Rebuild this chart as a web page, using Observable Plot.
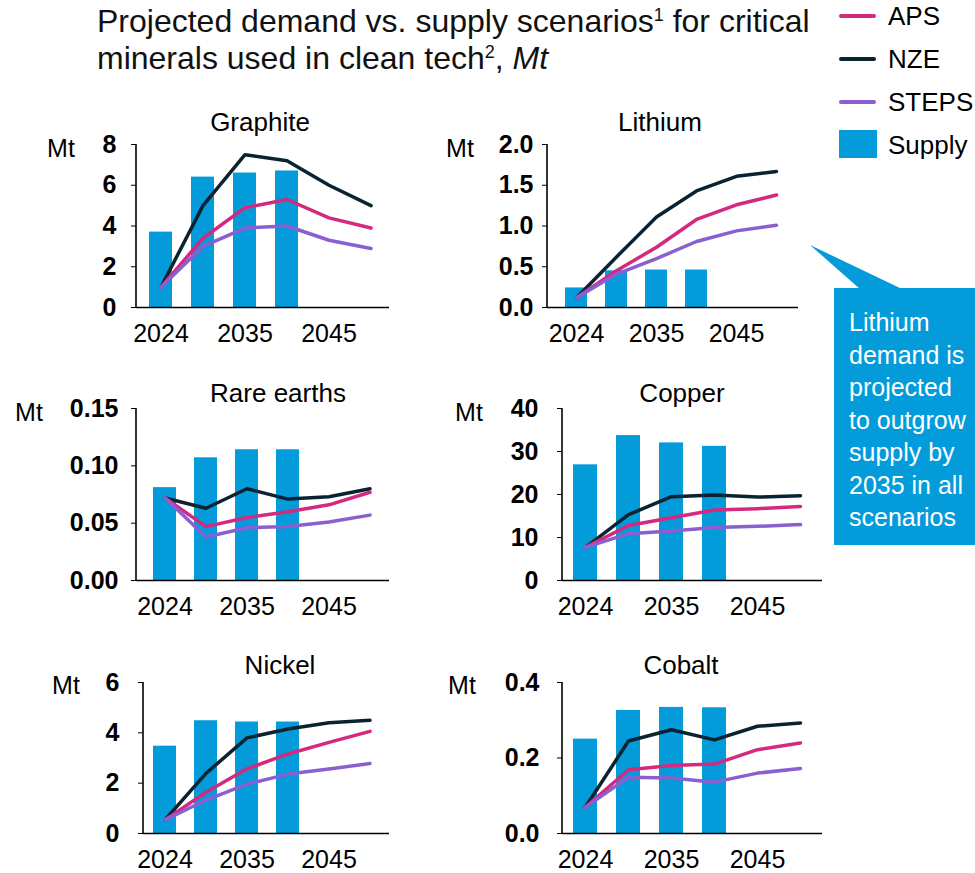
<!DOCTYPE html>
<html><head><meta charset="utf-8">
<script src="https://cdn.jsdelivr.net/npm/d3@7"></script>
<script src="https://cdn.jsdelivr.net/npm/@observablehq/plot@0.6"></script>
<style>
body{margin:0;background:#fff;font-family:"Liberation Sans",Arial,sans-serif;}
#root{position:relative;width:975px;height:873px;overflow:hidden;background:#fff;}
.abs{position:absolute;white-space:nowrap;}
.ptitle{font-size:26px;line-height:30px;color:#000;transform:translateX(-50%);}
.mt{font-size:25px;line-height:30px;color:#000;transform:translateX(-50%);}
#root svg [aria-label^="y-axis"] text{font-weight:bold;}
</style></head><body><div id="root"></div>
<script>
// ---- data ----
const years = ["2024","2030","2035","2040","2045","2050"];
const supplyYears = ["2024","2030","2035","2040"];
const tickYears = ["2024","2035","2045"];
const scenarios = ["NZE","APS","STEPS"];

const graphiteSupply = [3.7, 6.4, 6.6, 6.7];
const graphiteNZE   = [1.0, 5.0, 7.5, 7.2, 6.0, 5.0];
const graphiteAPS   = [1.0, 3.4, 4.9, 5.3, 4.4, 3.9];
const graphiteSTEPS = [1.0, 3.0, 3.9, 4.0, 3.3, 2.9];

const lithiumSupply = [0.24, 0.45, 0.46, 0.46];
const lithiumNZE   = [0.12, 0.62, 1.11, 1.43, 1.61, 1.67];
const lithiumAPS   = [0.12, 0.45, 0.74, 1.08, 1.26, 1.38];
const lithiumSTEPS = [0.12, 0.41, 0.60, 0.81, 0.94, 1.01];

const rareSupply = [0.081, 0.107, 0.114, 0.114];
const rareNZE   = [0.072, 0.063, 0.080, 0.071, 0.073, 0.080];
const rareAPS   = [0.072, 0.047, 0.055, 0.060, 0.066, 0.077];
const rareSTEPS = [0.072, 0.038, 0.046, 0.047, 0.051, 0.057];

const copperSupply = [26.9, 33.7, 32.0, 31.2];
const copperNZE   = [7.7, 15.3, 19.5, 19.9, 19.4, 19.7];
const copperAPS   = [7.7, 12.8, 14.6, 16.4, 16.7, 17.2];
const copperSTEPS = [7.7, 10.9, 11.5, 12.3, 12.6, 13.0];

const nickelSupply = [3.47, 4.48, 4.43, 4.43];
const nickelNZE   = [0.54, 2.39, 3.80, 4.15, 4.40, 4.50];
const nickelAPS   = [0.54, 1.64, 2.57, 3.16, 3.62, 4.06];
const nickelSTEPS = [0.54, 1.33, 1.96, 2.36, 2.56, 2.78];

const cobaltSupply = [0.250, 0.326, 0.334, 0.333];
const cobaltNZE   = [0.070, 0.245, 0.275, 0.248, 0.284, 0.293];
const cobaltAPS   = [0.070, 0.169, 0.180, 0.184, 0.222, 0.240];
const cobaltSTEPS = [0.070, 0.149, 0.147, 0.136, 0.160, 0.172];

const graphiteTicks = [0, 2, 4, 6, 8];
const lithiumTicks = [0, 0.5, 1.0, 1.5, 2.0];
const rareTicks = [0, 0.05, 0.10, 0.15];
const copperTicks = [0, 10, 20, 30, 40];
const nickelTicks = [0, 2, 4, 6];
const cobaltTicks = [0, 0.2, 0.4];

// ---- styles ----
const colors = {NZE:"#0b2330", APS:"#d32a7f", STEPS:"#8a5fd1"};
const supplyColor = "#039bda";
const FONT = "Liberation Sans, Arial, sans-serif";

// ---- layout (page coords) ----
const panels = [
  {name:"Graphite", supply:graphiteSupply, nze:graphiteNZE, aps:graphiteAPS, steps:graphiteSTEPS, ticks:graphiteTicks, fmt:"d",
   L:136, R:389, T:144, B:307, c0:160, c5:370, bw:23, pad:15, title:[260,122], mt:[61,148]},
  {name:"Lithium", supply:lithiumSupply, nze:lithiumNZE, aps:lithiumAPS, steps:lithiumSTEPS, ticks:lithiumTicks, fmt:".1f",
   L:547, R:798, T:144, B:307, c0:574, c5:778, bw:22, pad:9, title:[660,122], mt:[460,148]},
  {name:"Rare earths", supply:rareSupply, nze:rareNZE, aps:rareAPS, steps:rareSTEPS, ticks:rareTicks, fmt:".2f",
   L:136, R:389, T:408, B:580, c0:163, c5:370, bw:23, pad:13, title:[278,393], mt:[29,412]},
  {name:"Copper", supply:copperSupply, nze:copperNZE, aps:copperAPS, steps:copperSTEPS, ticks:copperTicks, fmt:"d",
   L:562, R:822, T:408, B:580, c0:584, c5:801, bw:24, pad:19, title:[682,393], mt:[469,412]},
  {name:"Nickel", supply:nickelSupply, nze:nickelNZE, aps:nickelAPS, steps:nickelSTEPS, ticks:nickelTicks, fmt:"d",
   L:143, R:389, T:682, B:833, c0:163, c5:370, bw:23, pad:19, title:[280,665], mt:[66,685]},
  {name:"Cobalt", supply:cobaltSupply, nze:cobaltNZE, aps:cobaltAPS, steps:cobaltSTEPS, ticks:cobaltTicks, fmt:".1f",
   L:562, R:822, T:682, B:833, c0:584, c5:801, bw:24, pad:18, title:[681,665], mt:[462,685]}
];

const root = document.getElementById("root");

function addDiv(html, cls, left, top, extra) {
  const d = document.createElement("div");
  d.className = "abs " + (cls || "");
  d.innerHTML = html;
  d.style.left = left + "px";
  d.style.top = top + "px";
  if (extra) Object.assign(d.style, extra);
  root.appendChild(d);
  return d;
}

// title
const sup = n => '<sup style="font-size:18px;vertical-align:11px;line-height:0">' + n + '</sup>';
addDiv('Projected demand vs. supply scenarios' + sup(1) + ' for critical<br>minerals used in clean tech' + sup(2) + ', <i>Mt</i>',
  "", 97, 3, {fontSize:"32px", lineHeight:"37px", color:"#111"});

// legend
const legendY = {APS:16, NZE:59, STEPS:102};
["APS","NZE","STEPS"].forEach(k => {
  addDiv("", "", 839, legendY[k] - 2, {width:"37px", height:"4px", background:colors[k], borderRadius:"2px"});
  addDiv(k, "", 888, legendY[k] - 15, {fontSize:"26px", lineHeight:"30px", color:"#000"});
});
addDiv("", "", 839, 130, {width:"38px", height:"28px", background:supplyColor});
addDiv("Supply", "", 888, 130, {fontSize:"26px", lineHeight:"30px", color:"#000"});

// panels
panels.forEach(p => {
  const ml = 135, mr = 12, mt = 20, mb = 50;
  const left = p.L - ml, top = p.T - mt;
  const width = p.R - p.L + ml + mr;
  const height = p.B - p.T + mt + mb;
  const step = (p.c5 - p.c0) / (years.length - 1);
  const supplyRows = supplyYears.map((y, i) => ({year: y, value: p.supply[i]}));
  const lineRows = [];
  [["NZE", p.nze], ["APS", p.aps], ["STEPS", p.steps]].forEach(([s, arr]) =>
    years.forEach((y, i) => lineRows.push({year: y, value: arr[i], scenario: s})));

  const axisLine = (index, scales, values, dims) => {
    return d3.create("svg:line")
      .attr("x1", dims.marginLeft).attr("x2", dims.marginLeft)
      .attr("y1", dims.marginTop).attr("y2", dims.height - dims.marginBottom)
      .attr("stroke", "#000").attr("stroke-width", 1.6).node();
  };

  const chart = Plot.plot({
    width, height,
    marginLeft: ml, marginRight: mr, marginTop: mt, marginBottom: mb,
    style: {background: "transparent", overflow: "visible", fontFamily: FONT, fontSize: "25px", color: "#000"},
    x: {type: "band", domain: years,
        range: [p.c0 - p.bw / 2 - left, p.c5 + p.bw / 2 - left],
        paddingInner: 1 - p.bw / step, paddingOuter: 0, align: 0.5,
        tickSize: 0, tickPadding: 17, label: null,
        tickFormat: d => tickYears.includes(d) ? d : ""},
    y: {domain: [p.ticks[0], p.ticks[p.ticks.length - 1]], ticks: p.ticks, tickFormat: d3.format(p.fmt),
        tickSize: 5, tickPadding: p.pad, label: null},
    color: {domain: scenarios, range: scenarios.map(s => colors[s])},
    marks: [
      Plot.barY(supplyRows, {x: "year", y: "value", fill: supplyColor}),
      Plot.line(lineRows, {x: "year", y: "value", z: "scenario", stroke: "scenario",
        strokeWidth: 3.5, strokeLinecap: "round", strokeLinejoin: "round"}),
      Plot.ruleY([0], {stroke: "#000", strokeWidth: 1.6}),
      axisLine
    ]
  });
  chart.style.position = "absolute";
  chart.style.left = left + "px";
  chart.style.top = top + "px";
  chart.style.maxWidth = "none";
  root.appendChild(chart);

  addDiv(p.name, "ptitle", p.title[0], p.title[1] - 15);
  addDiv("Mt", "mt", p.mt[0], p.mt[1] - 15);
});

// callout
const ns = "http://www.w3.org/2000/svg";
const tri = document.createElementNS(ns, "svg");
tri.setAttribute("width", 975); tri.setAttribute("height", 873);
tri.style.position = "absolute"; tri.style.left = "0px"; tri.style.top = "0px";
tri.style.pointerEvents = "none";
const poly = document.createElementNS(ns, "polygon");
poly.setAttribute("points", "810,245 860,289 902,289");
poly.setAttribute("fill", supplyColor);
tri.appendChild(poly);
root.appendChild(tri);
addDiv("Lithium<br>demand is<br>projected<br>to outgrow<br>supply by<br>2035 in all<br>scenarios", "", 834, 288,
  {width: "141px", height: "257px", background: supplyColor, color: "#fff", fontSize: "25px",
   lineHeight: "32.5px", padding: "0 0 0 15px", boxSizing: "border-box", paddingTop: "18px", whiteSpace: "nowrap"});
</script></body></html>
